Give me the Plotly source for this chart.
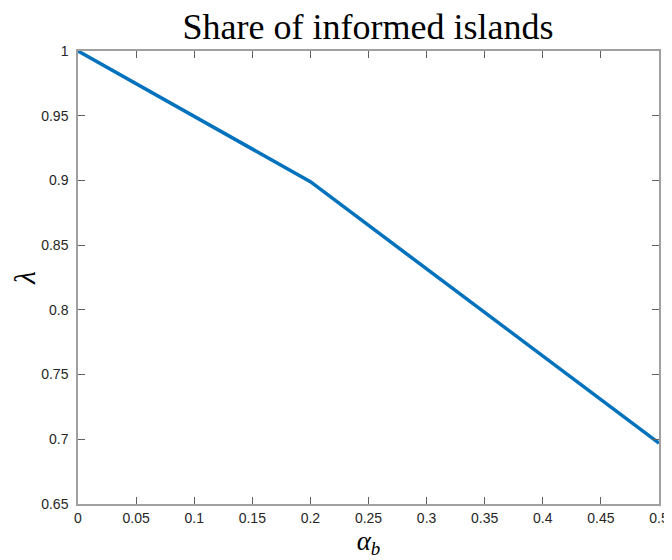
import plotly.graph_objects as go

# values
alpha_b = [0.0, 0.2, 0.5]
lam = [1.0, 0.899, 0.697]

x_ticks = [0, 0.05, 0.1, 0.15, 0.2, 0.25, 0.3, 0.35, 0.4, 0.45, 0.5]
x_ticktext = ["0", "0.05", "0.1", "0.15", "0.2", "0.25", "0.3", "0.35", "0.4", "0.45", "0.5"]
y_ticks = [0.65, 0.7, 0.75, 0.8, 0.85, 0.9, 0.95, 1.0]
y_ticktext = ["0.65", "0.7", "0.75", "0.8", "0.85", "0.9", "0.95", "1"]

fig = go.Figure()
fig.add_trace(go.Scatter(x=alpha_b, y=lam, mode="lines",
                         line=dict(color="#0072BD", width=3.5),
                         showlegend=False, cliponaxis=False))

tickfont = dict(family="Liberation Sans, Arial", size=14, color="#262626")
serif = "Liberation Serif, Times New Roman, serif"
# page body adds an 8px offset, margins account for it
fig.update_layout(
    width=672, height=560,
    margin=dict(l=70, r=21, t=43, b=64),
    paper_bgcolor="white", plot_bgcolor="white",
    title=dict(text="Share of informed islands", x=0.5357, xanchor="center",
               y=0.967, yanchor="middle",
               font=dict(family=serif, size=36, color="black")),
)
fig.update_xaxes(range=[0, 0.5], tickvals=x_ticks, ticktext=x_ticktext,
                 ticks="inside", ticklen=7, tickcolor="#606060", tickwidth=1,
                 showline=True, linecolor="#a0a0a0", linewidth=1.5, mirror="ticks",
                 showgrid=False, zeroline=False, tickfont=tickfont, automargin=False,
                 title=dict(text="<i>α<sub>b</sub></i>", standoff=4,
                            font=dict(family=serif, size=27, color="black")))
fig.update_yaxes(range=[0.65, 1.0], tickvals=y_ticks, ticktext=y_ticktext,
                 ticks="inside", ticklen=7, tickcolor="#606060", tickwidth=1,
                 showline=True, linecolor="#a0a0a0", linewidth=1.5, mirror="ticks",
                 showgrid=False, zeroline=False, tickfont=tickfont, automargin=False,
                 ticklabelstandoff=5,
                 title=dict(text="<i>λ</i>", standoff=4,
                            font=dict(family=serif, size=30, color="black")))

fig.write_html("out.html")
